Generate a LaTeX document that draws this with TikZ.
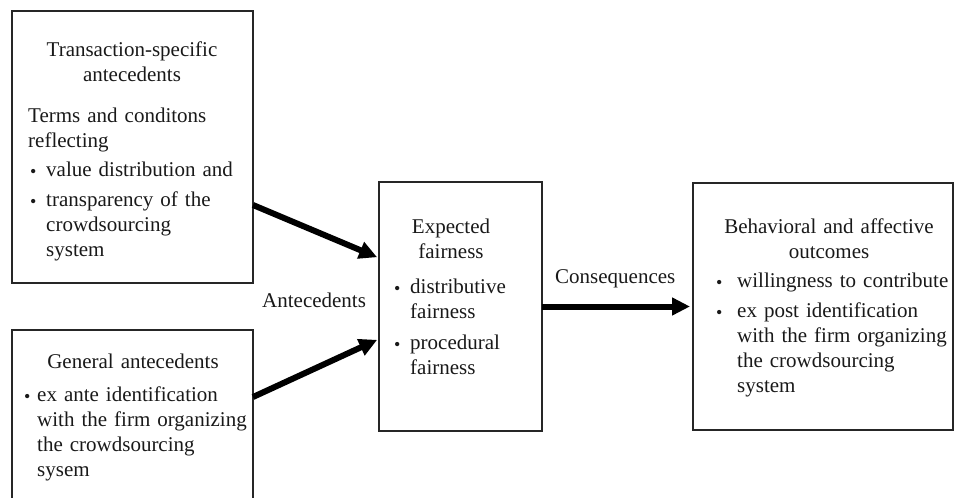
\documentclass[tikz,border=0pt]{standalone}
\usepackage{fontspec}
\setmainfont{Liberation Serif}
\usetikzlibrary{arrows.meta}

\tikzset{
    box/.style={draw=black!85, line width=1.2pt, inner sep=0pt, outer sep=0pt, anchor=north west},
    txt/.style={inner sep=0pt, font=\fontsize{21}{25}\selectfont, text=black!90},
    head/.style={txt, text width=250pt, align=center, anchor=base},
    list/.style={txt, text width=250pt, align=left, anchor=base west},
    fat/.style={line width=6pt, -{Triangle[length=18pt,width=17pt]}},
}
\newcommand{\itm}[1][13]{\leavevmode\llap{\makebox[0pt]{\raisebox{-1pt}{\fontsize{18}{18}\selectfont\textbullet}}\hspace{#1pt}}\ignorespaces}

\begin{document}
\begin{tikzpicture}[x=1pt,y=-1pt]
            \path[use as bounding box] (0,0) rectangle (954,498);
            \clip (0,0) rectangle (954,498);

            \node[box, minimum width=241pt, minimum height=272pt] (trans) at (12,11) {};
            \node[box, minimum width=241pt, minimum height=200pt] (general) at (12,330) {};
            \node[box, minimum width=163pt, minimum height=249pt] (fair) at (379,182) {};
            \node[box, minimum width=260pt, minimum height=247pt] (outc) at (693,183) {};

            \node[head] (transhead) at (132,56) {Transaction-specific\\antecedents};
            \node[list] (transterms) at (28,122) {Terms and conditons\\reflecting};
            \node[list] (translist) at (46,176) {\itm value distribution and\\[5pt]
                \itm transparency of the\\crowdsourcing\\system};

            \node[head] (generalhead) at (133,368) {General antecedents};
            \node[list] (generallist) at (37,401) {\itm[10] ex ante identification\\with the firm organizing\\
                the crowdsourcing\\sysem};

            \node[head] (fairhead) at (451,233) {Expected\\fairness};
            \node[list] (fairlist) at (410,293) {\itm distributive\\fairness\\[6pt]\itm procedural\\fairness};

            \node[head] (outchead) at (829,233) {Behavioral and affective\\outcomes};
            \node[list] (outclist) at (737,287) {\itm[18] willingness to contribute\\[5pt]
                \itm[18] ex post identification\\with the firm organizing\\the crowdsourcing\\system};

            \node[txt, anchor=base west] (antelabel) at (262,307) {Antecedents};
            \node[txt, anchor=base west] (conslabel) at (555,283) {Consequences};

            \draw[fat, shorten >=2pt] ([yshift=-58pt]trans.east) -- ([yshift=48.5pt]fair.west);
            \draw[fat, shorten >=2pt] ([yshift=33pt]general.east) -- ([yshift=-32.5pt]fair.west);
            \draw[fat, shorten >=3pt] (fair.east) -- (outc.west);
        \end{tikzpicture}
\end{document}
